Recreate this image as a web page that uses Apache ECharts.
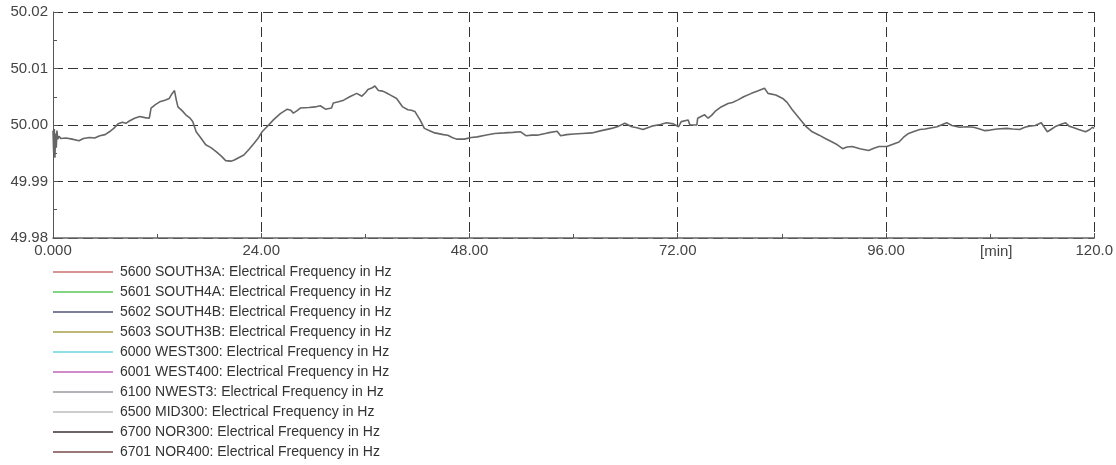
<!DOCTYPE html>
<html>
<head>
<meta charset="utf-8">
<script src="https://cdn.jsdelivr.net/npm/echarts@6/dist/echarts.min.js"></script>
<style>
html,body{margin:0;padding:0;background:#fff;}
#chart{width:1116px;height:465px;}
</style>
</head>
<body>
<div id="chart"></div>
<script>
// ---- data ----
const times = [
0.0,0.08,0.15,0.22,0.3,0.38,0.45,0.55,0.7,0.9,1.5,2.2,3.0,3.5,4.2,4.8,5.4,6.0,6.5,7.0,
7.5,8.0,8.4,8.8,9.4,10.0,10.6,11.1,11.3,11.8,12.3,12.9,13.4,13.7,14.0,14.2,14.4,14.9,15.3,15.8,
16.1,16.5,17.0,17.6,18.2,18.8,19.4,19.9,20.5,20.9,21.5,22.0,22.6,23.2,23.7,24.1,24.8,25.4,26.2,27.0,
27.4,27.7,28.1,28.5,29.5,30.2,30.8,31.4,32.1,32.3,32.9,33.5,34.2,35.0,35.6,36.0,36.3,36.8,37.1,37.5,
38.0,38.4,39.0,39.6,40.3,40.9,41.3,41.7,42.3,42.8,43.4,44.0,45.0,45.5,46.0,46.5,47.4,48.2,48.9,49.8,
50.9,52.0,53.0,53.9,54.5,55.2,55.8,57.0,58.1,58.5,59.2,60.0,61.0,62.1,63.2,64.4,65.2,65.9,66.7,67.3,
68.0,69.0,70.0,70.7,71.5,72.1,72.4,73.2,73.4,74.2,74.3,74.8,75.1,75.5,75.9,76.3,77.0,77.8,78.3,78.9,
79.6,80.5,81.2,82.0,82.4,83.3,84.1,84.6,85.2,86.0,86.8,87.5,88.3,89.0,89.8,90.4,91.0,91.5,92.1,93.0,
94.0,94.6,95.2,96.1,96.8,97.5,98.0,98.6,99.3,99.9,100.5,101.2,101.9,102.5,103.0,103.6,104.5,105.3,106.1,106.8,
107.4,108.0,108.8,109.9,110.6,111.4,112.0,112.5,113.2,113.9,114.2,114.6,115.1,115.6,116.1,116.7,117.1,117.5,118.2,119.0,
119.5,119.8,120.0
];
const frequency = [
49.9990,49.9950,49.9993,49.9942,49.9985,49.9960,49.9990,49.9975,49.9980,49.9976,49.9977,49.9975,49.9972,49.9976,49.9978,49.9977,49.9981,49.9983,49.9988,49.9994,
50.0002,50.0005,50.0003,50.0007,50.0012,50.0015,50.0013,50.0012,50.0030,50.0036,50.0041,50.0044,50.0047,50.0055,50.0061,50.0045,50.0032,50.0025,50.0018,50.0012,
50.0006,49.9988,49.9978,49.9965,49.9960,49.9953,49.9945,49.9937,49.9936,49.9938,49.9943,49.9947,49.9957,49.9968,49.9978,49.9988,49.9999,50.0009,50.0020,50.0028,
50.0026,50.0021,50.0025,50.0030,50.0031,50.0032,50.0034,50.0028,50.0030,50.0039,50.0041,50.0044,50.0050,50.0056,50.0051,50.0057,50.0063,50.0066,50.0069,50.0061,
50.0060,50.0057,50.0052,50.0047,50.0032,50.0027,50.0026,50.0024,50.0009,49.9994,49.9990,49.9986,49.9983,49.9982,49.9978,49.9975,49.9975,49.9978,49.9979,49.9982,
49.9985,49.9986,49.9987,49.9988,49.9981,49.9982,49.9982,49.9986,49.9989,49.9981,49.9983,49.9984,49.9985,49.9986,49.9990,49.9994,49.9998,50.0003,49.9997,49.9995,
49.9992,49.9998,50.0001,50.0004,50.0002,49.9997,50.0006,50.0009,50.0000,50.0000,50.0012,50.0016,50.0018,50.0012,50.0017,50.0024,50.0032,50.0038,50.0040,50.0044,
50.0050,50.0056,50.0060,50.0065,50.0056,50.0053,50.0047,50.0040,50.0027,50.0012,49.9997,49.9988,49.9982,49.9976,49.9970,49.9965,49.9958,49.9961,49.9962,49.9958,
49.9955,49.9959,49.9962,49.9962,49.9966,49.9970,49.9978,49.9985,49.9989,49.9992,49.9993,49.9995,49.9997,50.0001,50.0004,49.9999,49.9996,49.9997,49.9996,49.9993,
49.9990,49.9991,49.9993,49.9994,49.9993,49.9992,49.9996,49.9998,49.9999,50.0004,49.9997,49.9988,49.9993,49.9998,50.0001,50.0004,49.9998,49.9996,49.9992,49.9988,
49.9992,49.9996,49.9994
];
const legendNames = [
"5600 SOUTH3A: Electrical Frequency in Hz",
"5601 SOUTH4A: Electrical Frequency in Hz",
"5602 SOUTH4B: Electrical Frequency in Hz",
"5603 SOUTH3B: Electrical Frequency in Hz",
"6000 WEST300: Electrical Frequency in Hz",
"6001 WEST400: Electrical Frequency in Hz",
"6100 NWEST3: Electrical Frequency in Hz",
"6500 MID300: Electrical Frequency in Hz",
"6700 NOR300: Electrical Frequency in Hz",
"6701 NOR400: Electrical Frequency in Hz"
];
const legendColors = ["#c87070","#58c858","#50507a","#a8a048","#68d4e0","#c066b8","#9a9aa2","#bcbcbc","#3c3038","#7a4a4a"];
const xTickLabels = ["0.000","24.00","48.00","72.00","96.00","120.0"];
const yTickLabels = ["49.98","49.99","50.00","50.01","50.02"];
const xUnit = "[min]";

// ---- chart ----
const FONT = "'Liberation Sans', Arial, sans-serif";
const xMin = 0, xMax = 120, xInt = 24;
const yMin = 49.98, yMax = 50.02, yInt = 0.01;
const points = times.map((t, i) => [t, frequency[i]]);

const series = [{
  name: "data",
  type: "line",
  data: points,
  showSymbol: false,
  symbol: "none",
  lineStyle: { color: "#666666", width: 1.6 },
  itemStyle: { color: "#666666" },
  silent: true,
  z: 5
}];
legendNames.forEach((n, i) => {
  series.push({
    name: n, type: "line", data: [],
    itemStyle: { color: legendColors[i] },
    lineStyle: { color: legendColors[i] }
  });
});

const chart = echarts.init(document.getElementById("chart"), null, { renderer: "canvas" });
chart.setOption({
  animation: false,
  backgroundColor: "#ffffff",
  grid: { left: 53, right: 16, top: 12, bottom: 227, containLabel: false },
  xAxis: {
    type: "value", min: xMin, max: xMax, interval: xInt,
    axisLine: { show: true, lineStyle: { color: "#666", width: 1.5 } },
    axisTick: { show: true, inside: true, length: 5, lineStyle: { color: "#555" } },
    minorTick: { show: true, splitNumber: 2, length: 4, lineStyle: { color: "#555" } },
    axisLabel: {
      margin: 5, fontFamily: FONT, fontSize: 15, color: "#444",
      formatter: v => xTickLabels[Math.round((v - xMin) / xInt)]
    },
    splitLine: { show: true, lineStyle: { color: "#333", width: 1, type: [10, 5] } }
  },
  yAxis: {
    type: "value", min: yMin, max: yMax, interval: yInt,
    axisLine: { show: true, lineStyle: { color: "#555", width: 1 } },
    axisTick: { show: true, inside: true, length: 5, lineStyle: { color: "#555" } },
    minorTick: { show: true, splitNumber: 2, length: 4, lineStyle: { color: "#555" } },
    axisLabel: {
      margin: 5, fontFamily: FONT, fontSize: 15, color: "#444",
      formatter: v => yTickLabels[Math.round((v - yMin) / yInt)]
    },
    splitLine: { show: true, lineStyle: { color: "#333", width: 1, type: [10, 5] } }
  },
  legend: {
    show: true, orient: "vertical", left: 53, top: 265,
    data: legendNames.map(n => ({ name: n, icon: "rect" })),
    itemWidth: 60, itemHeight: 1.3, itemGap: 6,
    padding: 0,
    selectedMode: false,
    textStyle: { fontFamily: FONT, fontSize: 14, color: "#333", lineHeight: 14, padding: [0, 0, 0, 2] }
  },
  graphic: [{
    type: "text", left: 980, top: 244,
    style: { text: xUnit, font: "15px " + FONT, fill: "#444" }
  }],
  series: series
});
</script>
</body>
</html>
